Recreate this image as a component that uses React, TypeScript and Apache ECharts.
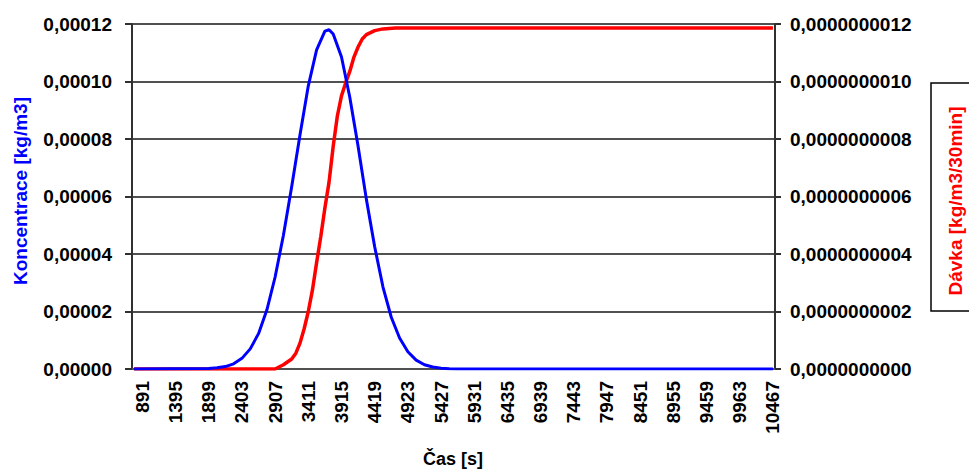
import React, { useEffect, useRef } from "react";
import * as echarts from "echarts";

// time grid of the category axis (s)
const timeStart = 765;
const timeStep = 63;
const timeCount = 155;
const categories: string[] = Array.from({ length: timeCount }, (_, i) => String(timeStart + timeStep * i));

// Koncentrace [kg/m3] – read points (time s, value)
const concTimes = [765, 1899, 2025, 2151, 2277, 2403, 2529, 2655, 2781, 2907, 3033, 3159, 3285, 3411, 3537, 3663, 3726, 3789, 3915, 4041, 4167, 4293, 4419, 4545, 4671, 4797, 4923, 5049, 5175, 5301, 5427, 5553, 5679, 10467];
const concValues = [0, 0.00000015, 0.0000004, 0.00000085, 0.0000018, 0.0000037, 0.000007, 0.0000123, 0.0000205, 0.000032, 0.0000465, 0.0000635, 0.0000815, 0.0000985, 0.000111, 0.0001175, 0.000118, 0.0001165, 0.0001085, 0.0000945, 0.0000775, 0.000059, 0.0000425, 0.0000285, 0.000018, 0.0000108, 0.000006, 0.0000031, 0.0000015, 0.0000007, 0.0000003, 0.0000001, 0, 0];

// Dávka [kg/m3/30min] – read points (time s, value)
const doseTimes = [765, 2907, 3033, 3159, 3222, 3285, 3348, 3411, 3474, 3537, 3600, 3663, 3726, 3789, 3852, 3915, 3978, 4041, 4104, 4167, 4230, 4293, 4419, 4545, 4734, 10467];
const doseValues = [0, 0, 0.015e-9, 0.035e-9, 0.055e-9, 0.09e-9, 0.14e-9, 0.2e-9, 0.275e-9, 0.37e-9, 0.46e-9, 0.56e-9, 0.65e-9, 0.775e-9, 0.88e-9, 0.95e-9, 0.995e-9, 1.035e-9, 1.085e-9, 1.12e-9, 1.148e-9, 1.163e-9, 1.177e-9, 1.183e-9, 1.186e-9, 1.186e-9];

const leftTicksMax = 0.00012;
const leftTicksStep = 0.00002;
const rightTicksMax = 1.2e-9;
const rightTicksStep = 2e-10;

const FONT = "'Liberation Sans', Arial, sans-serif";

function toIndex(t: number) {
  return categories.indexOf(String(t));
}

export default function App() {
  const ref = useRef<HTMLDivElement>(null);
  useEffect(() => {
    if (!ref.current) return;
    const chart = echarts.init(ref.current, undefined, { renderer: "svg" });
    const gridColor = "#505050";
    chart.setOption({
      animation: false,
      backgroundColor: "#ffffff",
      grid: { left: 132, right: 194, top: 24, bottom: 103, containLabel: false },
      xAxis: {
        type: "category",
        data: categories,
        boundaryGap: true,
        axisLine: { show: true, lineStyle: { color: gridColor, width: 2 } },
        axisTick: { show: false },
        splitLine: { show: false },
        axisLabel: {
          interval: (index: number) => (index - 2) % 8 === 0 && index >= 2,
          rotate: 90,
          margin: 12,
          color: "#000",
          fontFamily: FONT,
          fontWeight: "bold",
          fontSize: 19,
        },
      },
      yAxis: [
        {
          type: "value",
          min: 0,
          max: leftTicksMax,
          interval: leftTicksStep,
          position: "left",
          axisLine: { show: true, lineStyle: { color: "#303030", width: 2 } },
          axisTick: { show: true, length: 7, lineStyle: { color: "#303030", width: 2 } },
          splitLine: { show: true, lineStyle: { color: gridColor, width: 2 } },
          axisLabel: {
            margin: 20,
            color: "#000",
            fontFamily: FONT,
            fontWeight: "bold",
            fontSize: 19,
            formatter: (v: number) => v.toFixed(5).replace(".", ","),
          },
        },
        {
          type: "value",
          min: 0,
          max: rightTicksMax,
          interval: rightTicksStep,
          position: "right",
          axisLine: { show: true, lineStyle: { color: "#303030", width: 2 } },
          axisTick: { show: true, length: 6, lineStyle: { color: "#303030", width: 2 } },
          splitLine: { show: false },
          axisLabel: {
            margin: 15,
            color: "#000",
            fontFamily: FONT,
            fontWeight: "bold",
            fontSize: 19,
            formatter: (v: number) => v.toFixed(10).replace(".", ","),
          },
        },
      ],
      series: [
        {
          name: "Dávka",
          type: "line",
          yAxisIndex: 1,
          showSymbol: false,
          smooth: false,
          lineStyle: { color: "#ff0000", width: 3.5 },
          itemStyle: { color: "#ff0000" },
          data: doseTimes.map((t, k) => [toIndex(t), doseValues[k]]),
          z: 3,
        },
        {
          name: "Koncentrace",
          type: "line",
          yAxisIndex: 0,
          showSymbol: false,
          smooth: false,
          lineStyle: { color: "#0000ff", width: 3 },
          itemStyle: { color: "#0000ff" },
          data: concTimes.map((t, k) => [toIndex(t), concValues[k]]),
          z: 4,
        },
      ],
      graphic: [
        {
          type: "text",
          x: 20,
          y: 191,
          rotation: Math.PI / 2,
          style: {
            text: "Koncentrace [kg/m3]",
            fill: "#0000ff",
            font: `bold 19px ${FONT}`,
            textAlign: "center",
            textVerticalAlign: "middle",
          },
        },
        {
          type: "rect",
          shape: { x: 931, y: 83, width: 60, height: 228 },
          style: { fill: "#ffffff", stroke: "#000000", lineWidth: 1.5 },
        },
        {
          type: "text",
          x: 955,
          y: 201,
          rotation: Math.PI / 2,
          style: {
            text: "Dávka [kg/m3/30min]",
            fill: "#ff0000",
            font: `bold 19px ${FONT}`,
            textAlign: "center",
            textVerticalAlign: "middle",
          },
        },
        {
          type: "text",
          x: 453,
          y: 459,
          style: {
            text: "Čas [s]",
            fill: "#000000",
            font: `bold 18px ${FONT}`,
            textAlign: "center",
            textVerticalAlign: "middle",
          },
        },
      ],
    });
    return () => chart.dispose();
  }, []);
  return (
    <div
      ref={ref}
      style={{ position: "fixed", left: 0, top: 0, width: 969, height: 472, background: "#fff" }}
    />
  );
}
